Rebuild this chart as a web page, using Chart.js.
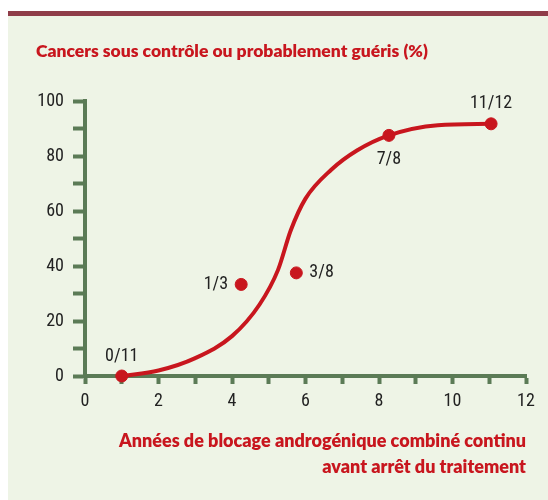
<!DOCTYPE html>
<html>
<head>
<meta charset="utf-8">
<script src="https://cdn.jsdelivr.net/npm/chart.js@4"></script>
<style>
  body { margin: 0; background: #fff; }
  #panel {
    position: absolute; left: 8px; top: 11px; width: 540px; height: 484px;
    background: #eef4e6; border-top: 5px solid #8f3d49;
  }
  #chart { position: absolute; left: 0; top: 0; }
</style>
</head>
<body>
<div id="panel"></div>
<canvas id="chart" width="548" height="500"></canvas>
<script>
// observed groups: years of treatment, % controlled, counts
const pointX = [1, 4.25, 5.75, 8.27, 11.05];
const pointY = [0, 33.3, 37.5, 87.5, 91.7];
const pointLabels = ['0/11', '1/3', '3/8', '7/8', '11/12'];
const labelSide = ['top', 'left', 'right', 'bottom', 'top'];

// fitted curve
const curveX = [1, 2, 3, 4, 4.75, 5.25, 5.6, 6, 6.7, 7.4, 8.27, 9.6, 11.05];
const curveY = [0, 2, 6.5, 14.5, 26, 38.5, 53, 64.5, 75, 82, 87.5, 91.2, 91.7];

const red = '#c8161e';
const axisCol = '#5b7b56';
const numFont = "'Roboto Condensed', 'DejaVu Sans Condensed', sans-serif";
const titleFont = "Lato, 'Open Sans', sans-serif";

const pointLabelPlugin = {
  id: 'pointLabels',
  afterDatasetsDraw(chart) {
    const ctx = chart.ctx;
    const meta = chart.getDatasetMeta(1);
    ctx.save();
    ctx.font = '18px ' + numFont;
    ctx.fillStyle = '#222';
    meta.data.forEach((pt, i) => {
      let x = pt.x, y = pt.y;
      const side = labelSide[i];
      ctx.textBaseline = 'middle';
      ctx.textAlign = 'center';
      if (side == 'top') y -= 20;
      if (side == 'bottom') y += 24;
      if (side == 'left') { x -= 13; ctx.textAlign = 'right'; }
      if (side == 'right') { x += 13; ctx.textAlign = 'left'; }
      ctx.fillText(pointLabels[i], x, y);
    });
    ctx.restore();
  }
};

new Chart(document.getElementById('chart'), {
  type: 'scatter',
  data: {
    datasets: [{
      data: curveX.map((x, i) => ({x: x, y: curveY[i]})),
      showLine: true,
      borderColor: red,
      borderWidth: 4,
      pointRadius: 0,
      cubicInterpolationMode: 'monotone',
      clip: false
    }, {
      data: pointX.map((x, i) => ({x: x, y: pointY[i]})),
      backgroundColor: red,
      borderColor: red,
      pointRadius: 6,
      clip: false
    }]
  },
  options: {
    responsive: false,
    animation: false,
    layout: { padding: { left: 36, right: 22, top: 0, bottom: 0 } },
    plugins: {
      legend: { display: false },
      tooltip: { enabled: false },
      title: {
        display: true,
        text: 'Cancers sous contrôle ou probablement guéris (%)',
        align: 'start',
        color: red,
        font: { family: titleFont, size: 17.5, weight: 800, lineHeight: 1.2 },
        padding: { top: 41, bottom: 39 }
      }
    },
    scales: {
      x: {
        min: 0, max: 12,
        afterFit: (s) => { s.height = 124; },
        ticks: {
          stepSize: 1,
          autoSkip: false,
          maxRotation: 0,
          padding: 7,
          color: '#222',
          font: { family: numFont, size: 18 },
          callback: (v) => (v % 2 === 0 ? v : '')
        },
        grid: { drawOnChartArea: false, tickLength: 8, tickWidth: 4, tickColor: axisCol, color: axisCol },
        border: { width: 4, color: axisCol },
        title: {
          display: true,
          text: ['Années de blocage androgénique combiné continu', 'avant arrêt du traitement'],
          align: 'end',
          color: red,
          font: { family: titleFont, size: 18, weight: 800, lineHeight: 1.45 },
          padding: { bottom: 20 }
        }
      },
      y: {
        min: 0, max: 100,
        afterFit: (s) => { s.width = 49; },
        ticks: {
          stepSize: 10,
          autoSkip: false,
          padding: 9,
          color: '#222',
          font: { family: numFont, size: 18 },
          callback: (v) => (v % 20 === 0 ? v : '')
        },
        grid: { drawOnChartArea: false, tickLength: 12, tickWidth: 4, tickColor: axisCol, color: axisCol },
        border: { width: 4, color: axisCol }
      }
    }
  },
  plugins: [pointLabelPlugin]
});
</script>
</body>
</html>
